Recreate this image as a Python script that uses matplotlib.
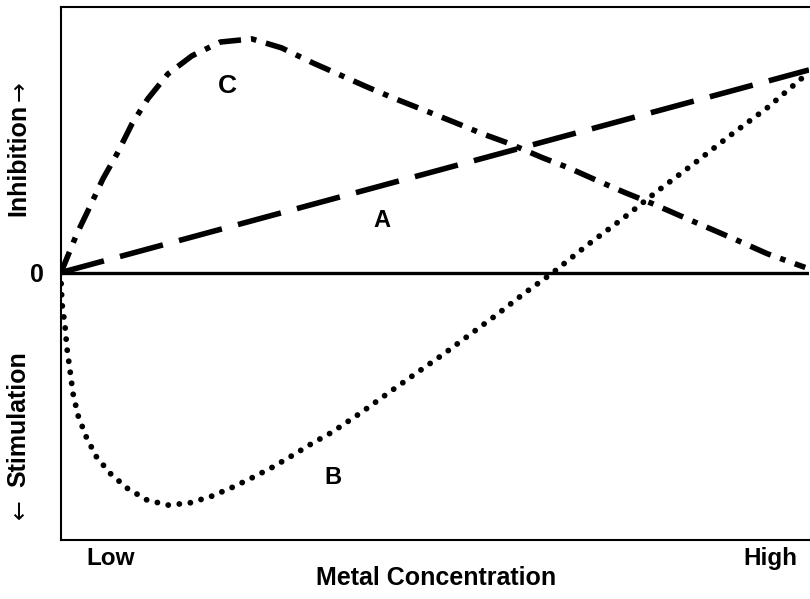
import matplotlib.pyplot as plt

plt.rcParams['font.family'] = ['Liberation Sans', 'DejaVu Sans']
plt.rcParams['font.weight'] = 'bold'

# curve A: straight line
a_x = [0, 100]
a_y = [0, 76.3]

# curve C: rises to a peak then falls
c_x = [0, 2.14, 3.61, 5.61, 7.49, 9.49, 11.6, 14.3, 17.5, 21.3, 25.5, 29.5,
       33.7, 37.0, 40.9, 44.7, 48.4, 52.4, 56.3, 60.0, 64.4, 67.8, 71.7,
       75.4, 79.1, 83.0, 86.8, 90.5, 94.4, 98.4, 99.5]
c_y = [0, 14.7, 23.3, 35.3, 44.7, 56.0, 65.4, 74.8, 81.6, 86.8, 88.0, 84.6,
       78.9, 74.8, 69.9, 65.4, 61.3, 56.8, 52.3, 48.5, 43.2, 39.5, 34.6,
       30.1, 25.9, 21.1, 16.5, 12.0, 7.1, 3.0, 1.9]

# curve B: stimulation dip then inhibition
b_x = [0, 0, 0.13, 0.53, 0.80, 1.20, 1.60, 2.27, 3.34, 4.68, 6.55, 8.82,
       11.5, 14.3, 17.2, 20.2, 23.0, 25.7, 28.3, 31.0, 33.6, 36.2, 40.0,
       43.7, 47.3, 51.1, 54.7, 58.3, 61.9, 65.6, 70.3, 75.1, 79.8, 84.8,
       89.4, 94.4, 99.1, 100]
b_y = [0, -3.0, -11.7, -19.9, -28.6, -36.8, -45.5, -53.8, -61.7, -69.2,
       -75.6, -81.2, -85.7, -87.6, -86.8, -84.2, -80.8, -77.1, -73.3, -68.8,
       -64.3, -60.2, -53.0, -45.5, -38.3, -30.8, -23.3, -15.8, -7.9, -0.4,
       10.2, 20.3, 30.8, 41.4, 51.5, 62.0, 73.3, 75.9]

fig = plt.figure(figsize=(8.1, 5.99), dpi=100)
ax = fig.add_axes([61 / 810, 1 - 540 / 599, 748 / 810, 533 / 599])

ax.axhline(0, color='black', lw=2.4, zorder=1)

ax.plot(a_x, a_y, color='black', lw=4, linestyle=(0, (8, 3)),
        dash_capstyle='butt', solid_capstyle='butt')
ax.plot(c_x, c_y, color='black', lw=4, linestyle=(0, (4, 1.8, 1, 1.8)),
        dash_capstyle='butt')
ax.plot(b_x, b_y, color='black', lw=4.2, linestyle=(0, (0.01, 1.9)),
        dash_capstyle='round')

ax.text(22.3, 70.3, 'C', fontsize=19, ha='center', va='center')
ax.text(42.9, 19.5, 'A', fontsize=17, ha='center', va='center')
ax.text(36.4, -77.1, 'B', fontsize=17, ha='center', va='center')

ax.set_xlim(0, 100)
ax.set_ylim(-100.75, 100)

ax.set_xticks([6.6, 94.8], ['Low', 'High'], fontsize=17.5)
ax.set_yticks([0], ['0'], fontsize=18)
ax.tick_params(length=0)
ax.tick_params(axis='x', pad=5)
ax.tick_params(axis='y', pad=12)

for side in ['left', 'top', 'bottom']:
    ax.spines[side].set_linewidth(1.5)
ax.spines['right'].set_visible(False)

fig.text(436 / 810, 1 - 578 / 599, 'Metal Concentration', fontsize=18,
         ha='center', va='center')

# rotated y labels, arrows drawn in DejaVu for the long thin glyph
fig.text(18 / 810, 1 - 160 / 599, 'Inhibition', fontsize=18,
         rotation=90, ha='center', va='center')
fig.text(20 / 810, 1 - 91 / 599, '\u2192', fontsize=17, rotation=90,
         ha='center', va='center', family='DejaVu Sans', weight='normal')
fig.text(18 / 810, 1 - 419 / 599, 'Stimulation', fontsize=18,
         rotation=90, ha='center', va='center')
fig.text(20 / 810, 1 - 509 / 599, '\u2190', fontsize=17, rotation=90,
         ha='center', va='center', family='DejaVu Sans', weight='normal')

fig.savefig('out.png', dpi=100)
